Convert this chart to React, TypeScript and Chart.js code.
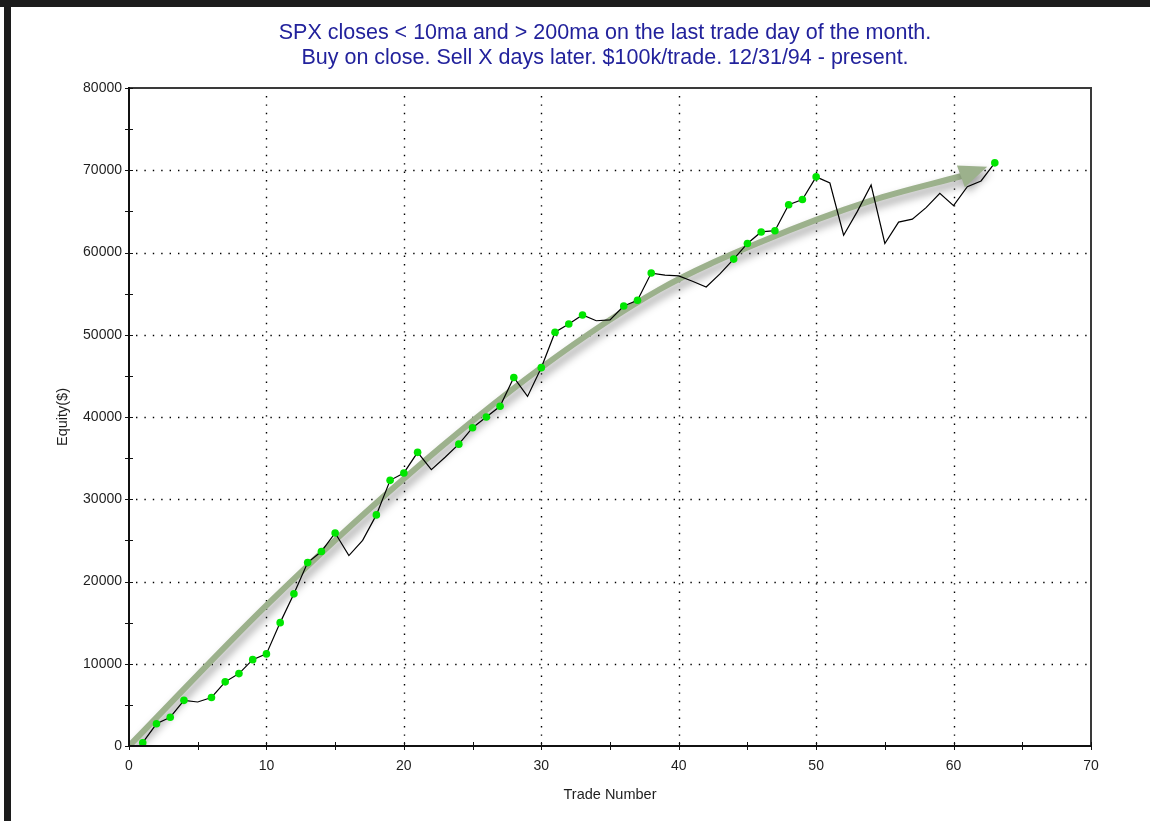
import React, { useEffect, useRef } from 'react';
import { Chart, registerables } from 'chart.js';

Chart.register(...registerables);

const TITLE_LINES = [
  'SPX closes < 10ma and > 200ma on the last trade day of the month.',
  'Buy on close. Sell X days later. $100k/trade. 12/31/94 - present.',
];
const X_TITLE = 'Trade Number';
const Y_TITLE = 'Equity($)';

const X_MIN = 0;
const X_MAX = 70;
const X_STEP = 10;
const X_MINOR = 5;
const Y_MIN = 0;
const Y_MAX = 80000;
const Y_STEP = 10000;
const Y_MINOR = 5000;

const TRADE_NUMBERS = [
  1, 2, 3, 4, 5, 6, 7, 8, 9, 10,
  11, 12, 13, 14, 15, 16, 17, 18, 19, 20,
  21, 22, 23, 24, 25, 26, 27, 28, 29, 30,
  31, 32, 33, 34, 35, 36, 37, 38, 39, 40,
  41, 42, 43, 44, 45, 46, 47, 48, 49, 50,
  51, 52, 53, 54, 55, 56, 57, 58, 59, 60,
  61, 62, 63,
];

const EQUITY = [
  400, 2700, 3500, 5550, 5350, 5900, 7800, 8800, 10500, 11200,
  15000, 18500, 22300, 23650, 25900, 23150, 25000, 28100, 32300, 33200,
  35700, 33600, 35100, 36700, 38700, 40000, 41300, 44800, 42500, 46000,
  50300, 51300, 52400, 51700, 51800, 53500, 54200, 57500, 57250, 57150,
  56500, 55800, 57400, 59200, 61100, 62500, 62650, 65800, 66450, 69200,
  68450, 62100, 65000, 68200, 61100, 63700, 64050, 65450, 67200, 65700,
  68000, 68700, 70900,
];

// Trend arrow drawn in data space (trade number, equity)
const ARROW_PATH_X = [0, 10, 20, 30, 38.6, 46, 54, 60.6];
const ARROW_PATH_Y = [0, 17100, 32500, 46000, 55500, 61300, 66300, 69300];
const ARROW_TIP_X = 62.45;
const ARROW_TIP_Y = 70430;

const FONT = '"Liberation Sans", Arial, Helvetica, sans-serif';
const ARROW_COLOR = '#9cb18c';
const MARKER_COLOR = '#00e600';
const TITLE_COLOR = '#22229c';
const TEXT_COLOR = '#1e1e1e';

const chartPlugin = {
  id: 'equityDecor',
  beforeDatasetsDraw(chart: any) {
    const { ctx, chartArea: a, scales } = chart;
    const xs = scales.x;
    const ys = scales.y;
    ctx.save();
    ctx.strokeStyle = '#000';
    ctx.lineWidth = 1.4;
    ctx.setLineDash([1.4, 7]);
    for (let v = Y_MIN + Y_STEP; v < Y_MAX; v += Y_STEP) {
      const py = Math.round(ys.getPixelForValue(v)) + 0.5;
      ctx.beginPath();
      ctx.moveTo(a.left + 7, py);
      ctx.lineTo(a.right, py);
      ctx.stroke();
    }
    for (let v = X_MIN + X_STEP; v < X_MAX; v += X_STEP) {
      const px = Math.round(xs.getPixelForValue(v)) + 0.5;
      ctx.beginPath();
      ctx.moveTo(px, a.top + 8);
      ctx.lineTo(px, a.bottom);
      ctx.stroke();
    }
    ctx.restore();
  },
  beforeDatasetDraw(chart: any, args: any) {
    if (args.index !== 1) return;
    const ctx = chart.ctx;
    ctx.save();
    ctx.shadowColor = 'rgba(0,0,0,0.38)';
    ctx.shadowBlur = 8;
    ctx.shadowOffsetX = 3;
    ctx.shadowOffsetY = 5;
  },
  afterDatasetDraw(chart: any, args: any) {
    if (args.index !== 1) return;
    const ctx = chart.ctx;
    const xs = chart.scales.x;
    const ys = chart.scales.y;
    const n = ARROW_PATH_X.length - 1;
    const bx = xs.getPixelForValue(ARROW_PATH_X[n]);
    const by = ys.getPixelForValue(ARROW_PATH_Y[n]);
    const tx = xs.getPixelForValue(ARROW_TIP_X);
    const ty = ys.getPixelForValue(ARROW_TIP_Y);
    const dx = tx - bx;
    const dy = ty - by;
    const len = Math.hypot(dx, dy) || 1;
    const nx = -dy / len;
    const ny = dx / len;
    const hw = 11.5;
    const sx = bx - (dx / len) * 1;
    const sy = by - (dy / len) * 1;
    ctx.fillStyle = ARROW_COLOR;
    ctx.beginPath();
    ctx.moveTo(sx + nx * hw, sy + ny * hw);
    ctx.lineTo(tx, ty);
    ctx.lineTo(sx - nx * hw, sy - ny * hw);
    ctx.closePath();
    ctx.fill();
    ctx.restore();
  },
  afterDatasetsDraw(chart: any) {
    const { ctx, chartArea: a, scales } = chart;
    const xs = scales.x;
    const ys = scales.y;
    ctx.save();
    ctx.setLineDash([]);
    ctx.strokeStyle = '#3a3a3a';
    ctx.lineWidth = 2;
    ctx.beginPath();
    ctx.moveTo(a.left, a.top);
    ctx.lineTo(a.right, a.top);
    ctx.lineTo(a.right, a.bottom);
    ctx.stroke();
    ctx.strokeStyle = '#111';
    ctx.beginPath();
    ctx.moveTo(a.left, a.top - 1);
    ctx.lineTo(a.left, a.bottom);
    ctx.lineTo(a.right + 1, a.bottom);
    ctx.stroke();
    ctx.lineWidth = 1;
    for (let v = Y_MIN; v <= Y_MAX; v += Y_MINOR) {
      const py = Math.round(ys.getPixelForValue(v)) + 0.5;
      ctx.beginPath();
      ctx.moveTo(a.left - 4, py);
      ctx.lineTo(a.left + 4, py);
      ctx.stroke();
    }
    for (let v = X_MIN; v <= X_MAX; v += X_MINOR) {
      const px = Math.round(xs.getPixelForValue(v)) + 0.5;
      ctx.beginPath();
      ctx.moveTo(px, a.bottom - 4);
      ctx.lineTo(px, a.bottom + 4);
      ctx.stroke();
    }
    ctx.restore();
  },
  afterDraw(chart: any) {
    const { ctx, chartArea: a } = chart;
    ctx.save();
    ctx.fillStyle = TITLE_COLOR;
    ctx.font = `21.5px ${FONT}`;
    ctx.textAlign = 'center';
    ctx.textBaseline = 'middle';
    const cx = (a.left + a.right) / 2 - 5;
    TITLE_LINES.forEach((line, i) => {
      ctx.fillText(line, cx, 33 + i * 25);
    });
    ctx.restore();
  },
};

export default function App() {
  const canvasRef = useRef<HTMLCanvasElement | null>(null);

  useEffect(() => {
    const canvas = canvasRef.current;
    if (!canvas) return;
    let best = 0;
    const radii = EQUITY.map((v) => {
      const isHigh = v > best;
      if (isHigh) best = v;
      return isHigh ? 3.8 : 0;
    });
    const chart = new Chart(canvas, {
      type: 'line',
      data: {
        datasets: [
          {
            label: 'Equity',
            data: TRADE_NUMBERS.map((t, i) => ({ x: t, y: EQUITY[i] })),
            borderColor: '#000',
            borderWidth: 1.2,
            tension: 0,
            pointRadius: radii,
            pointHoverRadius: radii,
            pointBackgroundColor: MARKER_COLOR,
            pointBorderColor: MARKER_COLOR,
            pointBorderWidth: 0,
            fill: false,
          },
          {
            label: 'Trend',
            data: ARROW_PATH_X.map((x, i) => ({ x, y: ARROW_PATH_Y[i] })),
            borderColor: ARROW_COLOR,
            borderWidth: 6,
            cubicInterpolationMode: 'monotone',
            pointRadius: 0,
            pointHoverRadius: 0,
            fill: false,
          },
        ],
      },
      plugins: [chartPlugin],
      options: {
        animation: false,
        responsive: false,
        devicePixelRatio: 1,
        events: [],
        layout: { padding: { top: 88, right: 59, bottom: 0, left: 0 } },
        plugins: {
          legend: { display: false },
          tooltip: { enabled: false },
          title: { display: false },
        },
        scales: {
          x: {
            type: 'linear',
            min: X_MIN,
            max: X_MAX,
            grid: { display: false, drawTicks: false },
            border: { display: false },
            ticks: {
              stepSize: X_STEP,
              padding: 12,
              color: TEXT_COLOR,
              font: { family: FONT, size: 14 },
              callback: (v: any) => String(v),
            },
            title: {
              display: true,
              text: X_TITLE,
              color: TEXT_COLOR,
              font: { family: FONT, size: 14.5 },
              padding: { top: 0, bottom: 17 },
            },
            afterFit: (s: any) => {
              s.height = 75;
            },
          },
          y: {
            type: 'linear',
            min: Y_MIN,
            max: Y_MAX,
            grid: { display: false, drawTicks: false },
            border: { display: false },
            ticks: {
              stepSize: Y_STEP,
              padding: 7,
              color: TEXT_COLOR,
              font: { family: FONT, size: 14 },
              callback: (v: any) => String(v),
            },
            title: {
              display: true,
              text: Y_TITLE,
              color: TEXT_COLOR,
              font: { family: FONT, size: 14.5 },
              padding: { top: 54, bottom: 0 },
            },
            afterFit: (s: any) => {
              s.width = 129;
            },
          },
        },
      } as any,
    });
    return () => chart.destroy();
  }, []);

  return (
    <div style={{ position: 'absolute', left: 0, top: 0, width: 1150, height: 821, background: '#fff', overflow: 'hidden' }}>
      <canvas ref={canvasRef} width={1150} height={821} style={{ position: 'absolute', left: 0, top: 0, width: 1150, height: 821 }} />
      <div style={{ position: 'absolute', left: 0, top: 0, width: 1150, height: 7, background: '#1c1c1c' }} />
      <div style={{ position: 'absolute', left: 4, top: 0, width: 7, height: 821, background: '#1c1c1c' }} />
    </div>
  );
}
